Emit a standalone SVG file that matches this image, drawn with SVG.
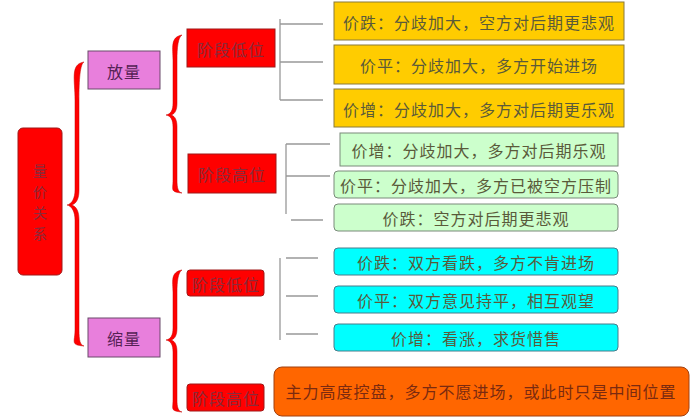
<svg xmlns="http://www.w3.org/2000/svg" width="690" height="417" viewBox="0 0 690 417">
<style>
text{font-family:"Noto Sans CJK SC","Noto Sans",sans-serif;font-size:16px;letter-spacing:1px;text-anchor:middle;dominant-baseline:central}
.red{fill:#ff0000;stroke:#a01818;stroke-width:1}
.rt{fill:#8a2a3a}
.rv{font-size:14px;letter-spacing:0}
.pink{fill:#e87fdc;stroke:#6a4a6a;stroke-width:1}
.pt{fill:#552255}
.or{fill:#ffcc00;stroke:#8a7a3a;stroke-width:1}
.gr{fill:#ccffcc;stroke:#7a8a7a;stroke-width:1}
.cy{fill:#00ffff;stroke:#4a7a8a;stroke-width:1}
.bt{fill:#5a5a3a}
.brace{fill:#ff0000;stroke:#c00000;stroke-width:0.5}
.ln{stroke:#999;stroke-width:1.3;fill:none}
</style>
<g id="connectors">
<path class="brace" d="M84,62 C70,64 75,80 75,100 L75,190 C75,198 72,204 67,205 C72,206 75,212 75,220 L75,330 C75,342 70,345 84,346 C80,345 79,340 79,330 L79,220 C79,212 77,207 72,205 C77,203 79,198 79,190 L79,100 C79,80 80,64 84,62 Z"/>
<path class="brace" d="M182,35 C170,37 173,48 173,60 L173,103 C173,110 171,114 166,115 C171,116 173,120 173,127 L173,180 C173,190 170,192 182,193 C178,192 177,188 177,180 L177,127 C177,120 175,116 171,115 C175,114 177,110 177,103 L177,60 C177,48 178,37 182,35 Z"/>
<path class="brace" d="M182,270 C170,272 173,282 173,292 L173,328 C173,335 171,339 166,340 C171,341 173,345 173,352 L173,400 C173,409 170,411 182,412 C178,411 177,407 177,400 L177,352 C177,345 175,341 171,340 C175,339 177,335 177,328 L177,292 C177,282 178,272 182,270 Z"/>
<path class="ln" d="M280,19 V100 M280,24 H323 M280,62 H323 M280,100 H323"/>
<path class="ln" d="M286,144 V214 M286,144 H330 M286,176 H330 M291,220 H323"/>
<path class="ln" d="M280,258 V340 M286,258 H318 M286,296 H318 M286,334 H318"/>
</g>
<g id="root"><rect class="red" x="18" y="128" width="44" height="147" rx="5"/>
<text class="rt rv" x="40" y="170">量</text><text class="rt rv" x="40" y="191">价</text><text class="rt rv" x="40" y="212">关</text><text class="rt rv" x="40" y="233">系</text></g>
<g id="fangliang"><rect class="pink" x="88" y="51" width="72" height="38"/><text class="pt" x="124" y="71">放量</text></g>
<g id="suoliang"><rect class="pink" x="88" y="318" width="72" height="39"/><text class="pt" x="124" y="338">缩量</text></g>
<g id="n1"><rect class="red" x="187" y="29" width="88" height="38"/><text class="rt" x="231" y="49">阶段低位</text></g>
<g id="n2"><rect class="red" x="188" y="154" width="88" height="39"/><text class="rt" x="232" y="174">阶段高位</text></g>
<g id="n3"><rect class="red" x="187" y="270" width="77" height="26" rx="3"/><text class="rt" x="226" y="284">阶段低位</text></g>
<g id="n4"><rect class="red" x="187" y="384" width="77" height="27" rx="3"/><text class="rt" x="226" y="398">阶段高位</text></g>
<g id="o1"><rect class="or" x="334" y="2" width="290" height="38"/><text class="bt" x="479" y="22">价跌：分歧加大，空方对后期更悲观</text></g>
<g id="o2"><rect class="or" x="334" y="45" width="290" height="39"/><text class="bt" x="479" y="65">价平：分歧加大，多方开始进场</text></g>
<g id="o3"><rect class="or" x="334" y="89" width="290" height="38"/><text class="bt" x="479" y="109">价增：分歧加大，多方对后期更乐观</text></g>
<g id="g1"><rect class="gr" x="340" y="133" width="278" height="33"/><text class="bt" x="479" y="150">价增：分歧加大，多方对后期乐观</text></g>
<g id="g2"><rect class="gr" x="334" y="171" width="284" height="27" rx="4"/><text class="bt" x="476" y="185">价平：分歧加大，多方已被空方压制</text></g>
<g id="g3"><rect class="gr" x="334" y="204" width="284" height="27" rx="4"/><text class="bt" x="476" y="218">价跌：空方对后期更悲观</text></g>
<g id="c1"><rect class="cy" x="334" y="248" width="284" height="27" rx="4"/><text class="bt" x="476" y="262">价跌：双方看跌，多方不肯进场</text></g>
<g id="c2"><rect class="cy" x="334" y="286" width="284" height="27" rx="4"/><text class="bt" x="476" y="300">价平：双方意见持平，相互观望</text></g>
<g id="c3"><rect class="cy" x="334" y="324" width="284" height="27" rx="4"/><text class="bt" x="476" y="338">价增：看涨，求货惜售</text></g>
<g id="big"><rect x="274" y="367" width="415" height="49" rx="8" fill="#ff6600" stroke="#a04010"/><text x="481" y="391" fill="#7a2a10">主力高度控盘，多方不愿进场，或此时只是中间位置</text></g>
</svg>
